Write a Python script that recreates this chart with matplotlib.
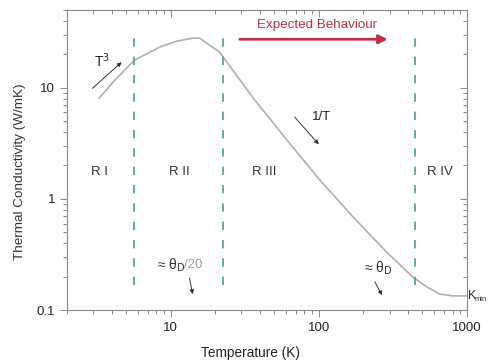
import matplotlib
matplotlib.use("Agg")
import matplotlib.pyplot as plt

plt.rcParams["font.family"] = ["Liberation Sans", "DejaVu Sans"]

# =========================
# DATOS
# =========================
temperatura = [3.3, 4.2, 5.7, 8.4, 11, 14.1, 15.7, 18.3, 21.4, 35.8, 60.8,
               101.6, 170, 288, 431, 537, 657, 800, 1000]
conductividad = [8.1, 11.7, 17.7, 23.2, 26.3, 28, 28, 24.2, 21, 8.2, 3.4,
                 1.48, 0.69, 0.33, 0.198, 0.161, 0.139, 0.134, 0.134]

limites_regiones = [5.7, 22.5, 447]
regiones = ["R I", "R II", "R III", "R IV"]
pos_regiones = [3.3, 11.5, 43, 660]

gris = "#888888"
verde = "#3aa58c"
rojo = "#c42f45"

# =========================
# FIGURA
# =========================
fig = plt.figure(figsize=(4.89, 3.63), dpi=100)
ax = fig.add_axes([0.137, 0.146, 0.818, 0.826])

ax.plot(temperatura, conductividad, color="#b0b0b0", lw=1.2)

for t in limites_regiones:
    ax.axvline(t, ymin=0.083, ymax=0.92, color=verde, lw=1.2,
               dashes=(5, 6))

ax.set_xscale("log")
ax.set_yscale("log")
ax.set_xlim(2, 1000)
ax.set_ylim(0.1, 50)

ax.set_xticks([10, 100, 1000])
ax.set_xticklabels(["10", "100", "1000"])
ax.set_yticks([0.1, 1, 10])
ax.set_yticklabels(["0.1", "1", "10"])

for s in ax.spines.values():
    s.set_color(gris)
    s.set_linewidth(0.8)
ax.tick_params(which="both", colors=gris, labelcolor="#222222",
               labelsize=9.5, width=0.7, direction="out")
ax.tick_params(which="major", length=5)
ax.tick_params(which="minor", length=3)

# ejes secundarios con marcas hacia dentro
ax_top = ax.secondary_xaxis("top")
ax_top.set_xticks([10, 100, 1000])
ax_top.tick_params(which="both", direction="in", colors=gris, labeltop=False,
                   width=0.7)
ax_top.tick_params(which="major", length=5)
ax_top.tick_params(which="minor", length=3)
ax_right = ax.secondary_yaxis("right")
ax_right.set_yticks([0.1, 1, 10])
ax_right.tick_params(which="both", direction="in", colors=gris,
                     labelright=False, width=0.7)
ax_right.tick_params(which="major", length=5)
ax_right.tick_params(which="minor", length=3)
ax_top.spines["top"].set_visible(False)
ax_right.spines["right"].set_visible(False)

ax.set_xlabel("Temperature (K)", fontsize=9.8, color="#222222")
ax.xaxis.set_label_coords(0.46, -0.12)
ax.set_ylabel("Thermal Conductivity (W/mK)", fontsize=9.7, color="#333333")
ax.yaxis.set_label_coords(-0.103, 0.46)

# regiones
for txt, x in zip(regiones, pos_regiones):
    ax.text(x, 0.46, txt, transform=ax.get_xaxis_transform(), ha="center",
            va="center", fontsize=9.5, color="#333333")

# comportamiento esperado
ax.annotate("", xy=(292, 0.903), xytext=(29.3, 0.903),
            xycoords=ax.get_xaxis_transform(),
            arrowprops=dict(arrowstyle="-|>", color=rojo, lw=2,
                            mutation_scale=13, shrinkA=0, shrinkB=0))
ax.text(97, 0.952, "Expected Behaviour", transform=ax.get_xaxis_transform(),
        ha="center", va="center", fontsize=9.6, color=rojo)

flecha = dict(arrowstyle="-|>", color="#333333", lw=0.7, mutation_scale=6,
              shrinkA=0, shrinkB=0)

ax.annotate("", xy=(4.67, 17), xytext=(2.97, 9.9), arrowprops=flecha)
ax.text(3.42, 17.5, "T$^3$", ha="center", va="center", fontsize=10,
        color="#222222")

ax.annotate("", xy=(100, 3.1), xytext=(68.7, 5.45), arrowprops=flecha)
ax.text(104.6, 5.5, "1/T", ha="center", va="center", fontsize=9.5,
        color="#222222")

ax.annotate("", xy=(14.1, 0.139), xytext=(13.4, 0.194), arrowprops=flecha)
ax.text(8.1, 0.25, r"≈ θ$_{\rm D}$", ha="left", va="center", fontsize=10,
        color="#333333")
ax.text(12.3, 0.255, "/20", ha="left", va="center", fontsize=9.5,
        color="#999999")

ax.annotate("", xy=(267, 0.136), xytext=(239, 0.179), arrowprops=flecha)
ax.text(250, 0.235, r"≈ θ$_{\rm D}$", ha="center", va="center", fontsize=10,
        color="#333333")

ax.text(1013, 0.135, "K", ha="left", va="center", fontsize=9,
        color="#333333", clip_on=False)
ax.text(1130, 0.125, "min", ha="left", va="center", fontsize=5.5,
        color="#333333", clip_on=False)

fig.savefig("out.png", dpi=100)
